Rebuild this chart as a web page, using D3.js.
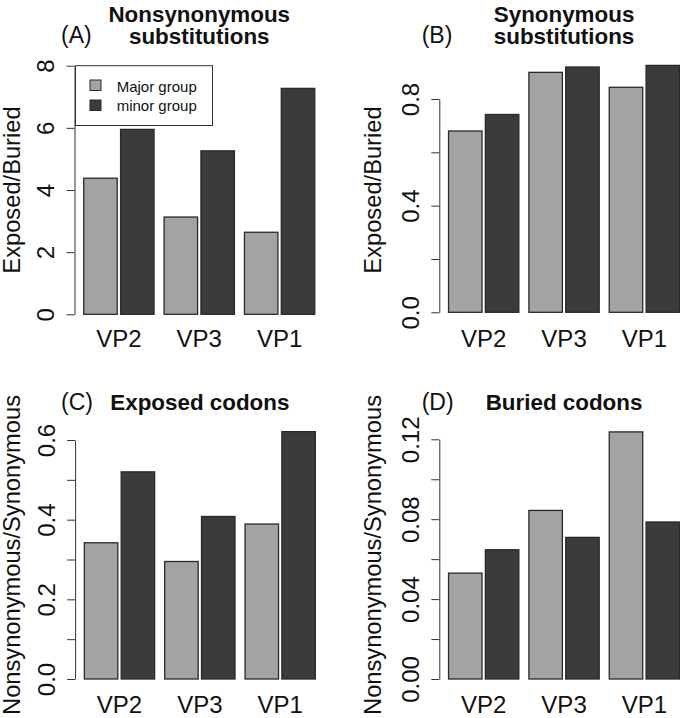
<!DOCTYPE html>
<html>
<head>
<meta charset="utf-8">
<script src="https://cdn.jsdelivr.net/npm/d3@7"></script>
<style>
  body { margin: 0; background: #fff; }
  svg { display: block; font-family: "Liberation Sans", Arial, Helvetica, sans-serif; }
</style>
</head>
<body>
<svg width="680" height="718"></svg>
<script>
// categories and groups
const categories = ["VP2", "VP3", "VP1"];
const groups = ["Major group", "minor group"];

// (A) nonsynonymous substitutions, exposed/buried
const nonsynMajor = [4.38, 3.13, 2.64];
const nonsynMinor = [5.95, 5.26, 7.27];
// (B) synonymous substitutions, exposed/buried
const synMajor = [0.680, 0.900, 0.844];
const synMinor = [0.742, 0.920, 0.926];
// (C) exposed codons, nonsynonymous/synonymous
const exposedMajor = [0.342, 0.295, 0.389];
const exposedMinor = [0.520, 0.408, 0.621];
// (D) buried codons, nonsynonymous/synonymous
const buriedMajor = [0.053, 0.0844, 0.1237];
const buriedMinor = [0.0647, 0.0709, 0.0786];

// tick values and which of them get a label
const ticksA = [0, 2, 4, 6, 8];
const labelsA = ["0", "2", "4", "6", "8"];
const ticksB = [0, 0.2, 0.4, 0.6, 0.8];
const labelsB = ["0.0", "", "0.4", "", "0.8"];
const ticksC = [0, 0.1, 0.2, 0.3, 0.4, 0.5, 0.6];
const labelsC = ["0.0", "", "0.2", "", "0.4", "", "0.6"];
const ticksD = [0, 0.02, 0.04, 0.06, 0.08, 0.1, 0.12];
const labelsD = ["0.00", "", "0.04", "", "0.08", "", "0.12"];

const fills = ["#a3a3a3", "#3b3b3b"];
const svg = d3.select("svg");

/**
 * drawPanel()
 * @description draws one grouped barplot (barplot(beside=TRUE) look)
 */
function drawPanel(p) {
  const g = svg.append("g");

  // bar units: width 1, space 0.1 inside a group, 0.3 between groups
  const span = 0.3 + categories.length * 2.4 - 0.3;
  const pad = (span - 0.3) * 0.04;
  const x = d3.scaleLinear()
    .domain([0.3 - pad, span + pad])
    .range([p.left, p.left + 249.5]);
  const y = d3.scaleLinear()
    .domain([0, p.ticks[p.ticks.length - 1]])
    .range(p.yRange);

  const rows = [];
  categories.forEach((c, i) => {
    [p.major, p.minor].forEach((vals, j) => {
      rows.push({ cat: c, grp: j, v: vals[i], x0: 0.3 + i * 2.4 + j * 1.1 });
    });
  });

  g.selectAll("rect.bar")
    .data(rows)
    .enter().append("rect")
    .attr("class", "bar")
    .attr("x", d => x(d.x0))
    .attr("width", d => x(d.x0 + 1) - x(d.x0))
    .attr("y", d => y(d.v))
    .attr("height", d => y(0) - y(d.v))
    .attr("fill", d => fills[d.grp])
    .attr("stroke", "#2a2a2a")
    .attr("stroke-width", 1.3);

  // y axis, labels parallel to the axis
  const axis = g.append("g")
    .attr("transform", `translate(${p.left},0)`)
    .call(d3.axisLeft(y)
      .tickValues(p.ticks)
      .tickFormat((d, i) => p.labels[i])
      .tickSize(8)
      .tickSizeOuter(0));
  axis.select(".domain").attr("stroke", "#333");
  axis.selectAll(".tick line").attr("stroke", "#333");
  axis.selectAll(".tick text")
    .attr("x", 0).attr("y", 0).attr("dy", 0)
    .attr("text-anchor", "middle")
    .attr("transform", "translate(-20.5,0) rotate(-90)")
    .attr("fill", "#111")
    .style("font-size", "24px")
    .style("font-family", null);

  // category labels
  g.selectAll("text.cat")
    .data(categories)
    .enter().append("text")
    .attr("class", "cat")
    .attr("x", (d, i) => x(0.3 + i * 2.4 + 1.05))
    .attr("y", p.catY)
    .attr("text-anchor", "middle")
    .style("font-size", "24px")
    .attr("fill", "#111")
    .text(d => d);

  // y title
  g.append("text")
    .attr("transform", `translate(${p.ytitleX},${p.ytitleY}) rotate(-90)`)
    .attr("text-anchor", "middle")
    .style("font-size", "23.7px")
    .attr("fill", "#111")
    .text(p.ytitle);

  // main title (bold, may be two lines)
  const cx = x((0.3 + span) / 2);
  p.title.forEach((t, i) => {
    g.append("text")
      .attr("x", cx)
      .attr("y", p.titleY[i])
      .attr("text-anchor", "middle")
      .style("font-size", "22.4px")
      .style("font-weight", "bold")
      .attr("fill", "#111")
      .text(t);
  });

  // panel letter
  g.append("text")
    .attr("x", p.letterX)
    .attr("y", p.letterY)
    .style("font-size", "23px")
    .attr("fill", "#111")
    .text(p.letter);

  return { x: x, y: y, g: g };
}

const pA = drawPanel({
  major: nonsynMajor, minor: nonsynMinor, ticks: ticksA, labels: labelsA,
  left: 74.5, yRange: [314.3, 65.7], catY: 346.7,
  ytitle: "Exposed/Buried", ytitleX: 19.5, ytitleY: 190,
  title: ["Nonsynonymous", "substitutions"], titleY: [21.7, 44.3],
  letter: "(A)", letterX: 61, letterY: 43.3
});

drawPanel({
  major: synMajor, minor: synMinor, ticks: ticksB, labels: labelsB,
  left: 439.3, yRange: [312.3, 99], catY: 346.7,
  ytitle: "Exposed/Buried", ytitleX: 380.7, ytitleY: 190,
  title: ["Synonymous", "substitutions"], titleY: [21.7, 44.3],
  letter: "(B)", letterX: 421.7, letterY: 43.3
});

drawPanel({
  major: exposedMajor, minor: exposedMinor, ticks: ticksC, labels: labelsC,
  left: 75.1, yRange: [679, 440], catY: 713.3,
  ytitle: "Nonsynonymous/Synonymous", ytitleX: 19.5, ytitleY: 555,
  title: ["Exposed codons"], titleY: [410],
  letter: "(C)", letterX: 61, letterY: 410
});

drawPanel({
  major: buriedMajor, minor: buriedMinor, ticks: ticksD, labels: labelsD,
  left: 439.3, yRange: [679, 439.3], catY: 713.3,
  ytitle: "Nonsynonymous/Synonymous", ytitleX: 380.7, ytitleY: 555,
  title: ["Buried codons"], titleY: [410],
  letter: "(D)", letterX: 421.7, letterY: 410
});

// legend in panel A
const legend = pA.g.append("g");
legend.append("rect")
  .attr("x", 75.5).attr("y", 65.7)
  .attr("width", 137).attr("height", 59.8)
  .attr("fill", "#fff")
  .attr("stroke", "#333")
  .attr("stroke-width", 1);
groups.forEach((name, i) => {
  legend.append("rect")
    .attr("x", 90).attr("y", 80 + i * 20)
    .attr("width", 11).attr("height", 10.5)
    .attr("fill", fills[i])
    .attr("stroke", "#2a2a2a")
    .attr("stroke-width", 1);
  legend.append("text")
    .attr("x", 116.7).attr("y", 91.7 + i * 19.7)
    .style("font-size", "15px")
    .attr("fill", "#111")
    .text(name);
});
</script>
</body>
</html>
